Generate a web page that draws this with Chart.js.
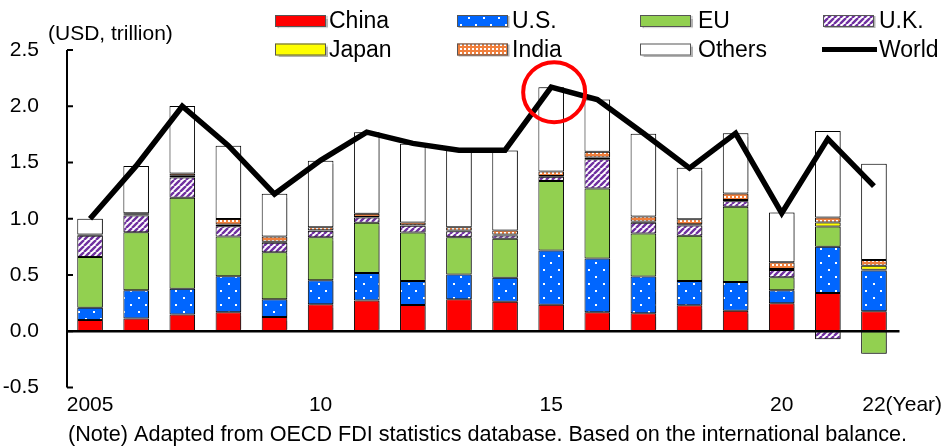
<!DOCTYPE html>
<html>
<head>
<meta charset="utf-8">
<script src="https://cdn.jsdelivr.net/npm/chart.js@4.4.0/dist/chart.umd.min.js"></script>
<style>
  html, body { margin: 0; padding: 0; background: #fff; }
  #wrap { width: 951px; height: 447px; position: relative; }
</style>
</head>
<body>
<div id="wrap"><canvas id="c" width="951" height="447"></canvas></div>
<script>
// Outward FDI by source, USD trillion
const years = ['2005','2006','2007','2008','2009','2010','2011','2012','2013','2014',
               '2015','2016','2017','2018','2019','2020','2021','2022'];
const yearTickText = ['2005','','','','','10','','','','','15','','','','','20','','22'];

const china  = [0.100,0.115,0.150,0.170,0.127,0.240,0.275,0.234,0.284,0.263,0.236,0.169,0.160,0.231,0.183,0.249,0.340,0.178];
const us     = [0.110,0.250,0.228,0.320,0.157,0.213,0.243,0.213,0.222,0.213,0.483,0.479,0.328,0.216,0.255,0.115,0.411,0.363];
const eu     = [0.450,0.515,0.810,0.352,0.418,0.382,0.447,0.432,0.331,0.347,0.618,0.622,0.382,0.402,0.669,0.116,0.181,-0.200];
const uk     = [0.190,0.150,0.180,0.092,0.085,0.058,0.047,0.059,0.053,0.029,0.036,0.260,0.095,0.092,0.050,0.064,-0.070,0.007];
const japan  = [0.005,0.005,0.015,0.015,0.010,0.005,0.005,0.005,0.006,0.008,0.008,0.015,0.010,0.010,0.010,0.010,0.036,0.035];
const india  = [0.005,0.015,0.020,0.050,0.045,0.028,0.028,0.025,0.030,0.037,0.040,0.050,0.046,0.046,0.058,0.060,0.044,0.050];
const others = [0.140,0.420,0.600,0.650,0.380,0.590,0.725,0.700,0.684,0.710,0.749,0.465,0.735,0.456,0.535,0.443,0.768,0.857];
const world  = [1.00,1.47,2.00,1.65,1.22,1.52,1.77,1.67,1.61,1.61,2.17,2.06,1.76,1.45,1.76,1.05,1.71,1.29];

const highlightYear = '2015';
const unitLabel = '(USD, trillion)';
const yearLabel = '(Year)';
const noteText = '(Note) Adapted from OECD FDI statistics database. Based on the international balance.';

const FONT = '"Liberation Sans", Arial, Helvetica, sans-serif';
const canvas = document.getElementById('c');
const mainCtx = canvas.getContext('2d');

function makePattern(w, h, paint) {
  const t = document.createElement('canvas');
  t.width = w; t.height = h;
  paint(t.getContext('2d'), w, h);
  return mainCtx.createPattern(t, 'repeat');
}

// blue with sparse white dots
const usFill = makePattern(15, 14, (g, w, h) => {
  g.fillStyle = '#0066FF'; g.fillRect(0, 0, w, h);
  g.fillStyle = '#FFFFFF';
  g.fillRect(3, 3, 2, 2);
  g.fillRect(10, 10, 2, 2);
});
// purple / white diagonal stripes
const ukFill = makePattern(6, 6, (g, s) => {
  g.fillStyle = '#FFFFFF'; g.fillRect(0, 0, s, s);
  g.strokeStyle = '#7030A0'; g.lineWidth = 2.4;
  g.beginPath();
  for (const k of [-s, 0, s]) { g.moveTo(k, s); g.lineTo(k + s, 0); }
  g.stroke();
});
// orange fine check
const indiaFill = makePattern(4, 4, (g, w, h) => {
  g.fillStyle = '#F07F3C'; g.fillRect(0, 0, w, h);
  g.fillStyle = '#FFFFFF';
  g.fillRect(0, 0, 2, 2);
});

function barSet(label, data, fill) {
  return {
    type: 'bar', label, data, backgroundColor: fill,
    borderColor: '#000000', borderWidth: 1, borderSkipped: false,
    order: 1, stack: 'fdi'
  };
}

const datasets = [
  barSet('China', china, '#FF0000'),
  barSet('U.S.', us, usFill),
  barSet('EU', eu, '#92D050'),
  barSet('U.K.', uk, ukFill),
  barSet('Japan', japan, '#FFFF00'),
  barSet('India', india, indiaFill),
  barSet('Others', others, '#FFFFFF'),
  {
    type: 'line', label: 'World', data: world, borderColor: '#000000',
    backgroundColor: '#000000', borderWidth: 5.5, pointRadius: 0,
    tension: 0, borderJoinStyle: 'miter', order: 0, stack: 'world'
  }
];

// legend grid: row 1 China, U.S., EU, U.K. / row 2 Japan, India, Others, World
const legendOrder = ['China','U.S.','EU','U.K.','Japan','India','Others','World'];
const legendBoxX = [275, 457, 640, 823];
const legendTextX = [329, 512, 698, 879];
const legendRowY = [21, 49.5];

const barShadow = {
  id: 'barShadow',
  beforeDatasetDraw(chart, args) {
    if (args.meta.type !== 'bar') return;
    const ctx = chart.ctx;
    ctx.save();
    ctx.shadowColor = 'rgba(0,0,0,0.35)';
    ctx.shadowOffsetX = 2;
    ctx.shadowOffsetY = 0;
    ctx.shadowBlur = 1.5;
  },
  afterDatasetDraw(chart, args) {
    if (args.meta.type !== 'bar') return;
    chart.ctx.restore();
  }
};

const axesAndMarks = {
  id: 'axesAndMarks',
  afterDatasetsDraw(chart) {
    const ctx = chart.ctx;
    const a = chart.chartArea;
    const ys = chart.scales.y, xs = chart.scales.x;
    ctx.save();
    ctx.strokeStyle = '#000';
    // vertical axis with inward ticks
    ctx.lineWidth = 2;
    ctx.beginPath();
    ctx.moveTo(a.left, a.top);
    ctx.lineTo(a.left, a.bottom);
    ys.ticks.forEach(t => {
      const y = ys.getPixelForValue(t.value);
      ctx.moveTo(a.left, y);
      ctx.lineTo(a.left + 6, y);
    });
    ctx.stroke();
    // zero baseline
    const y0 = ys.getPixelForValue(0);
    ctx.lineWidth = 2.5;
    ctx.beginPath();
    ctx.moveTo(a.left, y0);
    ctx.lineTo(a.right + 2.5, y0);
    ctx.stroke();
    // highlight ring on the peak year
    const hi = years.indexOf(highlightYear);
    const cx = xs.getPixelForValue(hi) + 3;
    const cy = ys.getPixelForValue(world[hi]) + 5;
    ctx.strokeStyle = '#FF0000';
    ctx.lineWidth = 4;
    ctx.beginPath();
    ctx.ellipse(cx, cy, 31, 30, 0, 0, Math.PI * 2);
    ctx.stroke();
    ctx.restore();
  },
  afterDraw(chart) {
    const ctx = chart.ctx;
    const xs = chart.scales.x;
    ctx.save();
    ctx.fillStyle = '#000';
    ctx.textBaseline = 'middle';
    // unit label
    ctx.font = '21px ' + FONT;
    ctx.textAlign = 'left';
    ctx.fillText(unitLabel, 48, 34);
    // "(Year)" continues the last tick label on the same line
    const last = years.length - 1;
    const item = xs.getLabelItems()[last];
    const ly = item.options.translation[1] + item.textOffset;
    const lx = xs.getPixelForValue(last) + ctx.measureText(yearTickText[last]).width / 2;
    ctx.fillText(yearLabel, lx, ly);
    // note
    ctx.font = '21.6px ' + FONT;
    ctx.fillText(noteText, 68, 435);
    // legend
    ctx.font = '23px ' + FONT;
    legendOrder.forEach((name, i) => {
      const ds = chart.data.datasets.find(d => d.label === name);
      const col = i % 4, row = Math.floor(i / 4);
      const bx = legendBoxX[col], by = legendRowY[row];
      if (ds.type === 'line') {
        ctx.strokeStyle = '#000';
        ctx.lineWidth = 5;
        ctx.beginPath();
        ctx.moveTo(bx - 1, by);
        ctx.lineTo(bx + 54, by);
        ctx.stroke();
      } else {
        ctx.save();
        ctx.shadowColor = 'rgba(0,0,0,0.3)';
        ctx.shadowOffsetX = 1.5;
        ctx.shadowOffsetY = 1;
        ctx.shadowBlur = 1;
        ctx.fillStyle = ds.backgroundColor;
        ctx.fillRect(bx, by - 6, 51, 12);
        ctx.restore();
        ctx.strokeStyle = '#555';
        ctx.lineWidth = 1;
        ctx.strokeRect(bx + 0.5, by - 5.5, 50, 11);
      }
      ctx.fillStyle = '#000';
      ctx.fillText(name, legendTextX[col], by + 1);
    });
    ctx.restore();
  }
};

new Chart(canvas, {
  data: { labels: years, datasets },
  options: {
    responsive: false,
    animation: false,
    devicePixelRatio: 1,
    layout: { padding: { left: 0, right: 54, top: 50, bottom: 0 } },
    plugins: { legend: { display: false }, tooltip: { enabled: false } },
    datasets: { bar: { barPercentage: 0.555, categoryPercentage: 1.0 } },
    scales: {
      x: {
        stacked: true,
        grid: { display: false },
        border: { display: false },
        ticks: {
          autoSkip: false, maxRotation: 0, minRotation: 0, padding: -3,
          color: '#000', font: { family: FONT, size: 21 },
          callback: (v, i) => yearTickText[i]
        },
        afterFit: s => { s.height = 59.4; }
      },
      y: {
        stacked: true,
        min: -0.5, max: 2.5,
        grid: { display: false },
        border: { display: false },
        ticks: {
          stepSize: 0.5, padding: 20, color: '#000',
          font: { family: FONT, size: 21 },
          callback: v => v.toFixed(1)
        },
        afterFit: s => { s.width = 67; }
      }
    }
  },
  plugins: [barShadow, axesAndMarks]
});
</script>
</body>
</html>
